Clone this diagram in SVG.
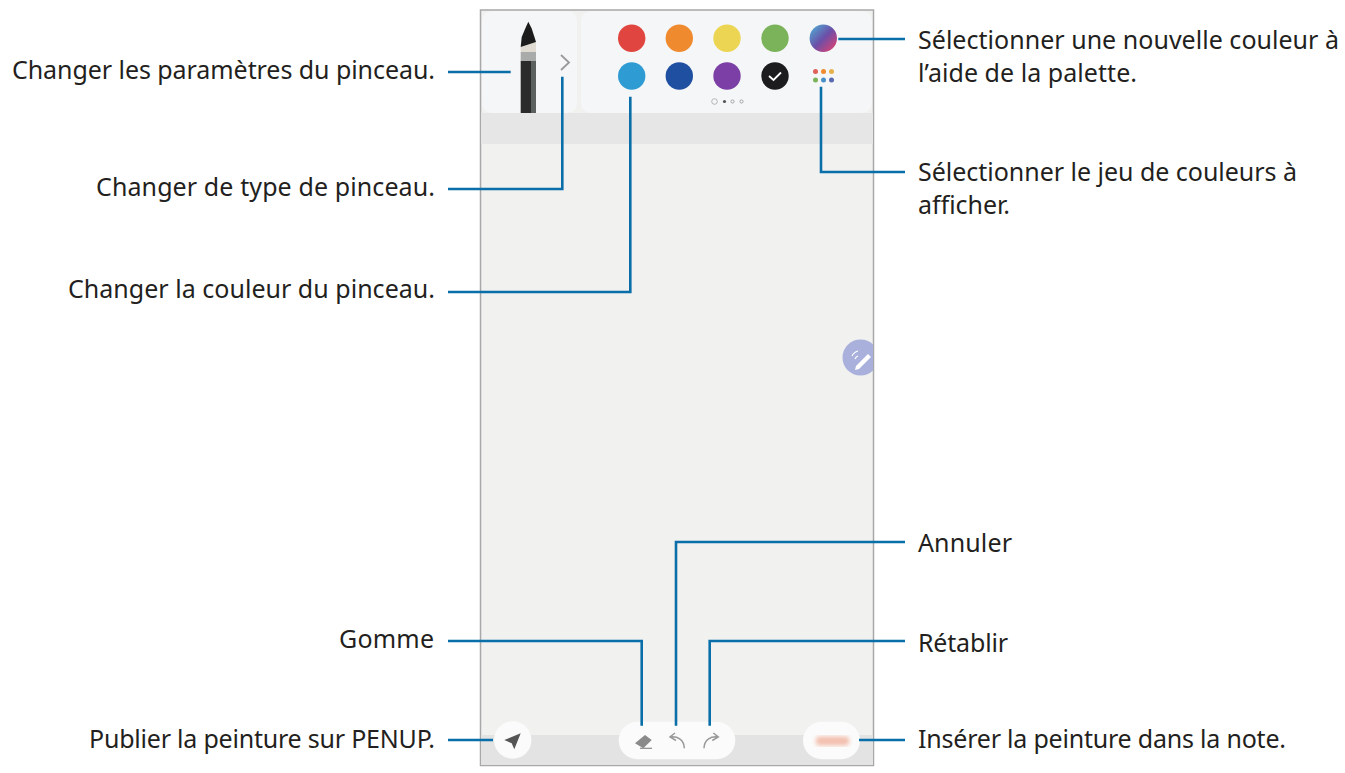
<svg xmlns="http://www.w3.org/2000/svg" width="1345" height="773" viewBox="0 0 1345 773">
<style>
.t{font-family:"Noto Sans","Open Sans",sans-serif;font-size:25px;fill:#231f20}
.l{fill:none;stroke:#0a6ea8;stroke-width:2.600}
.i{fill:none;stroke:#9a9a9a;stroke-width:1.500}
</style>
<defs>
<linearGradient id="g" x1="0" y1="0" x2="1" y2="1"><stop offset="0" stop-color="#4db6d8"/><stop offset=".5" stop-color="#6b4fa8"/><stop offset="1" stop-color="#f0406a"/></linearGradient>
<filter id="b"><feGaussianBlur stdDeviation="2"/></filter>
<clipPath id="c"><rect x="481" y="10" width="392" height="755"/></clipPath>
</defs>
<rect width="1345" height="773" fill="#fff"/>
<g id="phone">
<rect x="480.500" y="10" width="393" height="755.500" fill="#f1f1f0" stroke="#a8a8a8" stroke-width="1.500"/>
<rect x="481" y="113" width="392" height="31" fill="#e6e6e6"/>
<rect x="481" y="735" width="392" height="30" fill="#e3e3e3"/>
</g>
<g id="brush-panel">
<rect x="482" y="11" width="95" height="102" rx="10" fill="#f5f6f7"/>
<path d="M520.700 113V61h15.300v52z" fill="#2a2b2a"/>
<path d="M531 61h5v52h-5z" fill="#5c605e"/>
<rect x="520.700" y="52" width="15.300" height="9" fill="#a9abaa"/>
<path d="M520.700 47l15.300-5v10h-15.300z" fill="#e0dbd2"/>
<path d="M528.300 21.700l3.500 7 4.200 13.300-15.300 5 1-10 3.800-9z" fill="#1c1c1c"/>
<path d="M561 55l8 7.500-8 7.500" fill="none" stroke="#999" stroke-width="1.800"/>
</g>
<g id="color-panel">
<rect x="581" y="11" width="291" height="102" rx="10" fill="#f5f6f7"/>
<circle cx="631.700" cy="38.300" r="13.700" fill="#e0463f"/>
<circle cx="679.300" cy="38.300" r="13.700" fill="#ef8a2f"/>
<circle cx="727" cy="38.300" r="13.700" fill="#ecd552"/>
<circle cx="775" cy="38.300" r="13.700" fill="#7bb35a"/>
<circle cx="823.300" cy="38.300" r="13.700" fill="url(#g)"/>
<circle cx="631.700" cy="76" r="13.700" fill="#2f9bd3"/>
<circle cx="679.300" cy="76" r="13.700" fill="#1f4fa0"/>
<circle cx="727" cy="76" r="13.700" fill="#7b3fa5"/>
<circle cx="775" cy="76" r="13.700" fill="#1c1c1e"/>
<path d="M769 76l4.500 4 7.500-7.500" fill="none" stroke="#fff" stroke-width="1.800"/>
<circle cx="815.500" cy="71.500" r="2.500" fill="#e0605a"/><circle cx="823.500" cy="71.500" r="2.500" fill="#ef8a2f"/><circle cx="831.500" cy="71.500" r="2.500" fill="#e8b04a"/>
<circle cx="815.500" cy="80" r="2.500" fill="#7bb35a"/><circle cx="823.500" cy="80" r="2.500" fill="#4a90c8"/><circle cx="831.500" cy="80" r="2.500" fill="#5a6ab0"/>
<circle cx="714.500" cy="101.500" r="2.800" fill="none" stroke="#999" stroke-width=".7"/><circle cx="724.500" cy="101.500" r="1.600" fill="#555"/><circle cx="732.500" cy="101.500" r="1.600" fill="none" stroke="#888" stroke-width=".7"/><circle cx="741.500" cy="101.500" r="1.600" fill="none" stroke="#888" stroke-width=".7"/>
</g>
<g id="pen-button" clip-path="url(#c)">
<circle cx="860.500" cy="357.500" r="18" fill="#a9b0dc"/>
<path d="M856 366l12-12 3 3-12 12-4 1z" fill="#fff"/>
<path d="M852 356a9 9 0 0 1 6-5M855 359a5 5 0 0 1 3-3" fill="none" stroke="#fff" stroke-width="1.200"/>
</g>
<g id="send-button">
<circle cx="512.700" cy="740" r="18.700" fill="#fbfbfb"/>
<path d="M520.700 733.300l-16.400 6.700 7.400 3.300 2.600 6z" fill="#555"/>
</g>
<g id="edit-buttons">
<rect x="618.700" y="721.700" width="116.600" height="37.600" rx="18.800" fill="#fbfbfb"/>
<path d="M635 743.300l10-8.300 6.700 5-8.400 8.300z" fill="#8a8a8a"/><path d="M640 748.300h12" stroke="#8a8a8a" stroke-width="1.200"/>
<path d="M675 733l-5 4 6 3.500M670 737c8-1 14 3 14.300 11.300" class="i"/>
<path d="M713.300 733l5 4-6 3.500M718.300 737c-8-1-14 3-14.300 11.300" class="i"/>
</g>
<g id="insert-button">
<rect x="803" y="721.700" width="57" height="37.600" rx="18.800" fill="#fbfbfb"/>
<rect x="816" y="736.500" width="33" height="9" rx="3" fill="#f3bfae" filter="url(#b)"/>
</g>
<g id="connectors">
<path class="l" d="M448 72H510.700"/>
<path class="l" d="M448 189H562.300V76.700"/>
<path class="l" d="M448 292H630.300V96.700"/>
<path class="l" d="M838.300 39H905"/>
<path class="l" d="M905 172H821V86.700"/>
<path class="l" d="M448 641H641.700V725.700"/>
<path class="l" d="M448 740H493"/>
<path class="l" d="M905 542H676V725.700"/>
<path class="l" d="M905 641H709.700V725.700"/>
<path class="l" d="M859 740H905"/>
</g>
<g id="labels">
<text class="t" x="12" y="78.500" textLength="423">Changer les paramètres du pinceau.</text>
<text class="t" x="96" y="196" textLength="339">Changer de type de pinceau.</text>
<text class="t" x="68" y="298" textLength="367">Changer la couleur du pinceau.</text>
<text class="t" x="339" y="647.500" textLength="95">Gomme</text>
<text class="t" x="89" y="748" textLength="346">Publier la peinture sur PENUP.</text>
<text class="t" x="918" y="48.500" textLength="421">Sélectionner une nouvelle couleur à</text>
<text class="t" x="918" y="82" textLength="219">l’aide de la palette.</text>
<text class="t" x="918" y="181" textLength="379">Sélectionner le jeu de couleurs à</text>
<text class="t" x="918" y="214" textLength="92">afficher.</text>
<text class="t" x="918" y="552" textLength="94">Annuler</text>
<text class="t" x="918" y="652" textLength="90">Rétablir</text>
<text class="t" x="918" y="748" textLength="368">Insérer la peinture dans la note.</text>
</g>
</svg>
